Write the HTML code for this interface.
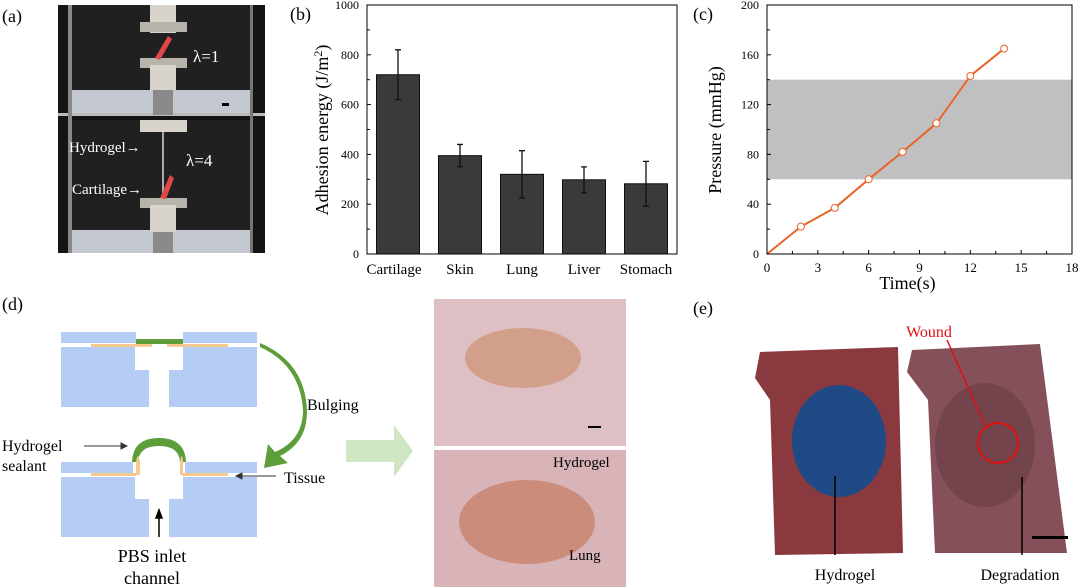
<!DOCTYPE html>
<html><head><meta charset="utf-8"><style>
body{margin:0;background:#fff;width:1080px;height:587px;overflow:hidden;font-family:"Liberation Serif",serif}
svg{position:absolute;left:0;top:0}
</style></head><body>
<svg width="1080" height="587" viewBox="0 0 1080 587" font-family="Liberation Serif, serif">
<!-- panel a -->
<text x="2" y="22" font-size="18">(a)</text>
<g>
<rect x="58" y="5" width="207" height="248" fill="#141414"/>
<rect x="72" y="5" width="178" height="85" fill="#202020"/>
<rect x="72" y="120" width="178" height="110" fill="#202020"/>
<rect x="72" y="90" width="178" height="23" fill="#c4c8d0"/>
<rect x="72" y="230" width="178" height="23" fill="#c4c8d0"/>
<rect x="58" y="113" width="207" height="3" fill="#bbb"/>
<rect x="68" y="5" width="4" height="248" fill="#888"/>
<rect x="250" y="5" width="3" height="248" fill="#777"/>
<rect x="150" y="5" width="26" height="28" fill="#d8d4cc"/>
<rect x="140" y="22" width="47" height="10" fill="#b8b4ac"/>
<rect x="140" y="58" width="47" height="10" fill="#b8b4ac"/>
<rect x="150" y="65" width="26" height="25" fill="#d8d4cc"/>
<rect x="153" y="90" width="20" height="25" fill="#8a8a8a"/>
<rect x="140" y="120" width="47" height="12" fill="#d8d4cc"/>
<rect x="162" y="132" width="2" height="65" fill="#aaa"/>
<rect x="140" y="198" width="47" height="10" fill="#b8b4ac"/>
<rect x="150" y="205" width="26" height="27" fill="#d8d4cc"/>
<rect x="153" y="232" width="20" height="21" fill="#8a8a8a"/>
<path d="M155 58 L168 36 L172 39 L160 60Z" fill="#e04848"/>
<path d="M160 198 L170 175 L174 178 L166 199Z" fill="#e04848"/>
<text x="193" y="62" font-size="17" fill="#fff">λ=1</text>
<rect x="222" y="103" width="7" height="3" fill="#000"/>
<text x="186" y="166" font-size="17" fill="#fff">λ=4</text>
<text x="69" y="152" font-size="15" fill="#fff">Hydrogel→</text>
<text x="72" y="194" font-size="15" fill="#fff">Cartilage→</text>
</g>
<!-- panel b -->
<text x="290" y="20" font-size="18">(b)</text>
<g id="chartB"></g>
<!-- panel c -->
<text x="693" y="20" font-size="18">(c)</text>
<g id="chartC"></g>
<!-- panel d -->
<text x="2" y="310" font-size="18">(d)</text>
<g>
<rect x="61" y="332" width="196" height="11" fill="#b5cdf5"/>
<path d="M61 347 H135 V370 H149 V407 H61Z M257 347 H183 V370 H169 V407 H257Z" fill="#b5cdf5"/>
<rect x="136" y="332" width="47" height="11" fill="#fff"/>
<rect x="136" y="339" width="47" height="5" fill="#5e9e3a"/>
<rect x="91" y="344" width="61" height="3" fill="#f5c88e"/>
<rect x="167" y="344" width="61" height="3" fill="#f5c88e"/>
</g>
<path d="M260 347 Q300 365 303 410 Q303 440 275 452 L268 444 L264 468 L288 463 L280 456 Q312 440 306 400 Q300 360 260 343Z" fill="#5e9e3a"/>
<text x="307" y="410" font-size="16">Bulging</text>
<g>
<rect x="61" y="462" width="196" height="11" fill="#b5cdf5"/>
<path d="M61 477 H135 V499 H149 V537 H61Z M257 477 H183 V499 H169 V537 H257Z" fill="#b5cdf5"/>
<path d="M133 462 Q135 440 159 440 Q183 440 185 462 V477 H133Z" fill="#fff"/>
<path d="M132 462 Q133 438 159 438 Q185 438 186 462 L180 462 Q179 446 159 446 Q139 446 138 462Z" fill="#5e9e3a"/>
<path d="M136 462 Q138 450 140 462 V475 H136Z M180 462 Q182 450 183 462 V475 H180Z" fill="#f5c88e"/>
<rect x="91" y="473" width="45" height="3" fill="#f5c88e"/>
<rect x="182" y="473" width="46" height="3" fill="#f5c88e"/>
</g>
<text x="2" y="451" font-size="16">Hydrogel</text>
<text x="2" y="471" font-size="16">sealant</text>
<path d="M84 446 H125 M121 443 L127 446 L121 449Z" stroke="#333" stroke-width="1" fill="#333"/>
<text x="284" y="483" font-size="16">Tissue</text>
<path d="M276 476 H238 M242 473 L236 476 L242 479Z" stroke="#333" stroke-width="1" fill="#333"/>
<path d="M159 537 V514 M156 518 L159 510 L162 518Z" stroke="#000" stroke-width="1.5" fill="#000"/>
<text x="152" y="562" font-size="18" text-anchor="middle">PBS inlet</text>
<text x="152" y="584" font-size="18" text-anchor="middle">channel</text>
<path d="M346 440 H394 V425 L413 451 L394 477 V462 H346Z" fill="#cfe6c2"/>
<g>
<rect x="434" y="299" width="192" height="147" fill="#ddbfc4"/>
<ellipse cx="523" cy="358" rx="58" ry="30" fill="#d2a08a"/>
<rect x="588" y="426" width="13" height="2" fill="#000"/>
<rect x="434" y="450" width="192" height="137" fill="#d8b4b8"/>
<ellipse cx="527" cy="522" rx="68" ry="42" fill="#cc8c7c"/>
<text x="553" y="467" font-size="15">Hydrogel</text>
<text x="569" y="560" font-size="15">Lung</text>
</g>
<!-- panel e -->
<text x="693" y="314" font-size="18">(e)</text>
<g>
<path d="M760 352 L898 347 L903 553 L775 555 L770 400 L755 378Z" fill="#8a3a3e"/>
<ellipse cx="839" cy="441" rx="47" ry="56" fill="#1f4a85"/>
<path d="M912 350 L1040 344 L1067 553 L935 553 L928 400 L907 372Z" fill="#86505a"/>
<ellipse cx="985" cy="445" rx="50" ry="62" fill="#74444c"/>
<circle cx="998" cy="443" r="20" fill="none" stroke="#e01010" stroke-width="2"/>
<line x1="947" y1="340" x2="985" y2="425" stroke="#e01010" stroke-width="1.5"/>
<text x="929" y="337" font-size="16" fill="#e01010" text-anchor="middle">Wound</text>
<rect x="1032" y="536" width="36" height="3" fill="#000"/>
<line x1="835" y1="555" x2="835" y2="476" stroke="#000" stroke-width="1.5"/>
<line x1="1022" y1="555" x2="1022" y2="477" stroke="#000" stroke-width="1.5"/>
<text x="845" y="580" font-size="16" text-anchor="middle">Hydrogel</text>
<text x="1020" y="580" font-size="16" text-anchor="middle">Degradation</text>
</g>
</svg>
<script>
const NS='http://www.w3.org/2000/svg';
const bCats=['Cartilage','Skin','Lung','Liver','Stomach'];
const bVals=[720,395,320,298,282];
const bErr=[100,45,95,52,90];
const bTicks=[0,200,400,600,800,1000];
const cTime=[0,2,4,6,8,10,12,14];
const cPres=[0,22,37,60,82,105,143,165];
const cXTicks=[0,3,6,9,12,15,18];
const cYTicks=[0,40,80,120,160,200];
const cBand=[60,140];
function mk(p,t,a){const e=document.createElementNS(NS,t);for(const k in a)e.setAttribute(k,a[k]);p.appendChild(e);return e;}
// chart B
const gB=document.getElementById('chartB');
const bx0=367,bx1=677,by0=254,by1=5;
const yB=v=>by0-(v/1000)*(by0-by1);
const xB=i=>398+i*62;
bTicks.forEach(t=>{
 const l=mk(gB,'line',{x1:bx0,x2:bx0+4,y1:yB(t),y2:yB(t),stroke:'#000'});
 
 
 const tx=mk(gB,'text',{x:bx0-8,y:yB(t)+4,'font-size':12,'text-anchor':'end'});tx.textContent=t;
 
 
 mk(gB,'line',{x1:bx0,x2:bx0+3,y1:yB(t+100),y2:yB(t+100),stroke:'#000'});
});
bCats.forEach((c,i)=>{
 const r=mk(gB,'rect',{x:xB(i)-21.5,y:yB(bVals[i]),width:43,height:by0-yB(bVals[i]),fill:'#3a3a3a',stroke:'#111'});
 
 
 const e=mk(gB,'path',{d:`M${xB(i)} ${yB(bVals[i]+bErr[i])}V${yB(bVals[i]-bErr[i])}M${xB(i)-3} ${yB(bVals[i]+bErr[i])}h6M${xB(i)-3} ${yB(bVals[i]-bErr[i])}h6`,stroke:'#111','stroke-width':1.3,fill:'none'});
 
 
 const tx=mk(gB,'text',{x:xB(i)+ (i==0?-4:0),y:274,'font-size':15,'text-anchor':'middle'});tx.textContent=c;
 
 
});
const fB=mk(gB,'rect',{x:bx0,y:by1,width:bx1-bx0,height:by0-by1,fill:'none',stroke:'#000'});


const ytB=mk(gB,'text',{transform:'translate(328,130) rotate(-90)','font-size':18,'text-anchor':'middle'});
ytB.innerHTML='Adhesion energy (J/m<tspan dy="-6" font-size="12">2</tspan><tspan dy="6">)</tspan>';


// chart C
const gC=document.getElementById('chartC');
const cx0=767,cx1=1072,cy0=254,cy1=5;
const xC=v=>cx0+v/18*(cx1-cx0);
const yC=v=>cy0-v/200*(cy0-cy1);
const band=mk(gC,'rect',{x:cx0,y:yC(cBand[1]),width:cx1-cx0,height:yC(cBand[0])-yC(cBand[1]),fill:'#c0c0c0'});


cYTicks.forEach(t=>{
 mk(gC,'line',{x1:cx0,x2:cx0+4,y1:yC(t),y2:yC(t),stroke:'#000'});
 if(t<200)mk(gC,'line',{x1:cx0,x2:cx0+3,y1:yC(t+20),y2:yC(t+20),stroke:'#000'});
 const tx=mk(gC,'text',{x:cx0-8,y:yC(t)+4,'font-size':12,'text-anchor':'end'});tx.textContent=t;
 
 
});
cXTicks.forEach(t=>{
 mk(gC,'line',{x1:xC(t),x2:xC(t),y1:cy0,y2:cy0-4,stroke:'#000'});
 if(t<18)mk(gC,'line',{x1:xC(t+1.5),x2:xC(t+1.5),y1:cy0,y2:cy0-3,stroke:'#000'});
 const tx=mk(gC,'text',{x:xC(t),y:272,'font-size':13,'text-anchor':'middle'});tx.textContent=t;
 
 
});
let d='';cTime.forEach((t,i)=>{d+=(i?'L':'M')+xC(t)+' '+yC(cPres[i]);});
const ln=mk(gC,'path',{d:d,fill:'none',stroke:'#e8642a','stroke-width':2,'stroke-linejoin':'round'});


cTime.forEach((t,i)=>{if(i==0)return;
 const c=mk(gC,'circle',{cx:xC(t),cy:yC(cPres[i]),r:3.5,fill:'#fff',stroke:'#e8642a','stroke-width':1});
 
 
});
const fC=mk(gC,'rect',{x:cx0,y:cy1,width:cx1-cx0,height:cy0-cy1,fill:'none',stroke:'#000'});


const xt=mk(gC,'text',{x:(cx0+cx1)/2-12,y:289,'font-size':18,'text-anchor':'middle'});xt.textContent='Time(s)';


const yt=mk(gC,'text',{transform:'translate(721,130) rotate(-90)','font-size':18,'text-anchor':'middle'});yt.textContent='Pressure (mmHg)';


</script>
</body></html>
